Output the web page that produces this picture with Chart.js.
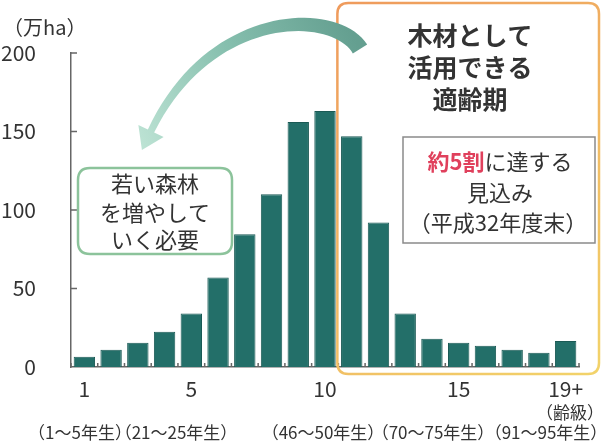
<!DOCTYPE html>
<html>
<head>
<meta charset="utf-8">
<script src="https://cdn.jsdelivr.net/npm/chart.js@4"></script>
<style>
  body { margin: 0; background: #fff; }
  #wrap { width: 601px; height: 448px; }
</style>
</head>
<body>
<div id="wrap"><canvas id="ageChart" width="601" height="448"></canvas></div>
<script>
// 齢級別の森林面積（万ha）
const ageClasses = ['1', '2', '3', '4', '5', '6', '7', '8', '9', '10',
  '11', '12', '13', '14', '15', '16', '17', '18', '19+'];
const areaValues = [6.5, 11, 15.5, 22.5, 34, 57, 84.5, 110, 156, 163,
  147, 92, 34, 18, 15.5, 13.5, 11, 9, 16.5];
const shownTicks = ['1', '5', '10', '15', '19+'];
const yearLabels = ['（1～5年生）', '（21～25年生）', '（46～50年生）', '（70～75年生）', '（91～95年生）'];
const yTicks = [0, 50, 100, 150, 200];

const FONT = '"Noto Sans CJK JP", "Noto Sans", sans-serif';
const TEXT = '#333';

function roundRect(ctx, x, y, w, h, r) {
  ctx.beginPath();
  ctx.moveTo(x + r, y);
  ctx.lineTo(x + w - r, y);
  ctx.quadraticCurveTo(x + w, y, x + w, y + r);
  ctx.lineTo(x + w, y + h - r);
  ctx.quadraticCurveTo(x + w, y + h, x + w - r, y + h);
  ctx.lineTo(x + r, y + h);
  ctx.quadraticCurveTo(x, y + h, x, y + h - r);
  ctx.lineTo(x, y + r);
  ctx.quadraticCurveTo(x, y, x + r, y);
  ctx.closePath();
}

function bez(p, t) {
  const u = 1 - t;
  return {
    x: u*u*u*p[0].x + 3*u*u*t*p[1].x + 3*u*t*t*p[2].x + t*t*t*p[3].x,
    y: u*u*u*p[0].y + 3*u*u*t*p[1].y + 3*u*t*t*p[2].y + t*t*t*p[3].y
  };
}

// curved arrow, tapering band plus head
function drawArrow(ctx) {
  const p = [{x: 360, y: 49}, {x: 335, y: 8}, {x: 210, y: 8}, {x: 151, y: 131}];
  const n = 40, left = [], right = [];
  for (let i = 0; i <= n; i++) {
    const t = i / n;
    const a = bez(p, Math.max(0, t - 0.01)), b = bez(p, Math.min(1, t + 0.01));
    const c = bez(p, t);
    let dx = b.x - a.x, dy = b.y - a.y;
    const len = Math.hypot(dx, dy);
    dx /= len; dy /= len;
    const hw = (17 - 10 * t) / 2;
    left.push({x: c.x - dy * hw, y: c.y + dx * hw});
    right.push({x: c.x + dy * hw, y: c.y - dx * hw});
  }
  const end = p[3];
  let ex = p[3].x - p[2].x, ey = p[3].y - p[2].y;
  const el = Math.hypot(ex, ey);
  ex /= el; ey /= el;
  const grad = ctx.createLinearGradient(360, 49, 142, 150);
  grad.addColorStop(0, '#649f90');
  grad.addColorStop(0.5, '#86bfae');
  grad.addColorStop(1, '#bde3d4');
  ctx.fillStyle = grad;
  ctx.beginPath();
  left.forEach((q, i) => i ? ctx.lineTo(q.x, q.y) : ctx.moveTo(q.x, q.y));
  ctx.lineTo(end.x - ey * 14, end.y + ex * 14);
  ctx.lineTo(end.x + ex * 21, end.y + ey * 21);
  ctx.lineTo(end.x + ey * 14, end.y - ex * 14);
  for (let i = right.length - 1; i >= 0; i--) ctx.lineTo(right[i].x, right[i].y);
  ctx.closePath();
  ctx.fill();
}

const decorations = {
  id: 'decorations',
  afterDatasetsDraw(chart) {
    const { ctx, chartArea: a, scales: { x, y } } = chart;
    const step = x.getPixelForValue(1) - x.getPixelForValue(0);
    ctx.save();

    // inward ticks on both axes
    ctx.strokeStyle = '#666';
    ctx.lineWidth = 1.5;
    ctx.beginPath();
    yTicks.slice(1).forEach(v => {
      const py = y.getPixelForValue(v);
      ctx.moveTo(a.left, py);
      ctx.lineTo(a.left + 6, py);
    });
    for (let i = 0; i <= ageClasses.length; i++) {
      const px = x.getPixelForValue(i) - step / 2;
      ctx.moveTo(px, a.bottom);
      ctx.lineTo(px, a.bottom - 4);
    }
    ctx.stroke();

    // 適齢期 frame, from age class 11 onward
    const bx = x.getPixelForValue(ageClasses.indexOf('11')) - step / 2 - 1;
    const frame = ctx.createLinearGradient(bx, 0, 599, a.bottom + 7);
    frame.addColorStop(0, '#ef9a5c');
    frame.addColorStop(1, '#f2d36a');
    ctx.strokeStyle = frame;
    ctx.lineWidth = 2.5;
    roundRect(ctx, bx, 3, 599 - bx, a.bottom + 7 - 3, 11);
    ctx.stroke();

    drawArrow(ctx);

    // callout on the left
    ctx.fillStyle = '#fff';
    ctx.strokeStyle = '#8cc39b';
    ctx.lineWidth = 2.5;
    roundRect(ctx, 78, 168, 154, 86, 12);
    ctx.fill();
    ctx.stroke();

    ctx.textAlign = 'center';
    ctx.textBaseline = 'middle';
    ctx.fillStyle = TEXT;
    ctx.font = '22px ' + FONT;
    ctx.fillText('若い森林', 155, 184);
    ctx.fillText('を増やして', 155, 213);
    ctx.fillText('いく必要', 155, 240);

    ctx.font = 'bold 25px ' + FONT;
    ctx.fillText('木材として', 470, 35);
    ctx.fillText('活用できる', 470, 67);
    ctx.fillText('適齢期', 470, 99);

    // inner note box
    ctx.strokeStyle = '#8a8a8a';
    ctx.lineWidth = 1.5;
    ctx.strokeRect(403, 137, 192, 106);

    ctx.font = 'bold 22px ' + FONT;
    const w1 = ctx.measureText('約5割').width;
    ctx.font = '22px ' + FONT;
    const w2 = ctx.measureText('に達する').width;
    let sx = 500 - (w1 + w2) / 2;
    ctx.textAlign = 'left';
    ctx.font = 'bold 22px ' + FONT;
    ctx.fillStyle = '#e0405c';
    ctx.fillText('約5割', sx, 162);
    ctx.font = '22px ' + FONT;
    ctx.fillStyle = TEXT;
    ctx.fillText('に達する', sx + w1, 162);
    ctx.textAlign = 'center';
    ctx.fillText('見込み', 500, 193);
    ctx.fillText('（平成32年度末）', 498, 223);

    // unit and age labels
    ctx.textAlign = 'left';
    ctx.font = '20px ' + FONT;
    ctx.fillText('（万ha）', 3, 27);
    ctx.textAlign = 'center';
    ctx.font = '17px ' + FONT;
    ctx.fillText('（齢級）', 570, 413);
    const rowX = [80, 176, 323, 433, 546];
    yearLabels.forEach((t, i) => ctx.fillText(t, rowX[i], 433));

    ctx.restore();
  }
};

new Chart(document.getElementById('ageChart'), {
  type: 'bar',
  data: {
    labels: ageClasses,
    datasets: [{
      data: areaValues,
      backgroundColor: '#236f69',
      borderColor: '#1b5a55',
      borderWidth: 1,
      barPercentage: 0.8,
      categoryPercentage: 1.0
    }]
  },
  options: {
    responsive: false,
    animation: false,
    layout: { padding: { top: 53, right: 22, left: 0, bottom: 0 } },
    plugins: { legend: { display: false }, tooltip: { enabled: false } },
    scales: {
      x: {
        grid: { display: false },
        border: { display: true, color: '#666', width: 1.5 },
        ticks: {
          autoSkip: false,
          maxRotation: 0,
          padding: 1,
          color: TEXT,
          font: { family: FONT, size: 21 },
          callback: (v, i) => shownTicks.includes(ageClasses[i]) ? ageClasses[i] : ''
        },
        afterFit: s => { s.height = 81; }
      },
      y: {
        min: 0,
        max: 200,
        grid: { display: false },
        border: { display: true, color: '#666', width: 1.5 },
        ticks: {
          stepSize: 50,
          padding: 27,
          color: TEXT,
          font: { family: FONT, size: 21 }
        },
        afterFit: s => { s.width = 71; }
      }
    }
  },
  plugins: [decorations]
});
</script>
</body>
</html>
